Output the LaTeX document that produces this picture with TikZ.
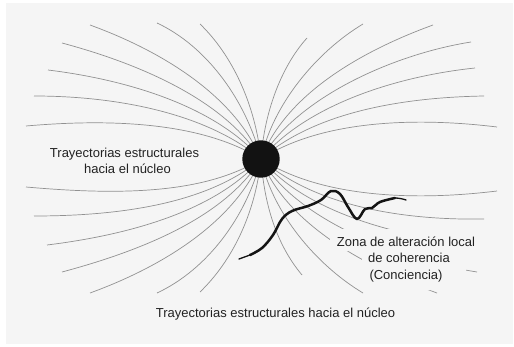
\documentclass[tikz,border=0pt]{standalone}
\usepackage{fontspec}
\setmainfont{Liberation Sans}
\definecolor{bg}{HTML}{F5F5F5}
\definecolor{fanc}{HTML}{919191}
\definecolor{ink}{HTML}{222222}
\begin{document}
\begin{tikzpicture}[x=1pt,y=1pt,
  fan/.style={draw=fanc, line width=0.7pt},
  lbl/.style={font=\fontsize{13}{16}\selectfont, text=ink, anchor=base, inner sep=0pt},
  wave/.style={draw=black!92, line width=2.5pt, line cap=round, line join=round},
  wavetip/.style={draw=black!92, line width=1.3pt, line cap=round, line join=round},
  corestyle/.style={circle, fill=black!93, minimum size=37.4pt, inner sep=0pt}]
\useasboundingbox (0,0) rectangle (514,346);
\fill[white] (0,0) rectangle (514,346);
\fill[bg] (6,2) rectangle (513,343);
\coordinate (c) at (261,187);
% upper left
\draw[fan] (c) .. controls +(148:70) and +(5:85) .. (26,220);
\draw[fan] (c) .. controls +(140:70) and +(0:85) .. (34,250);
\draw[fan] (c) .. controls +(131:70) and +(-7:80) .. (48,276);
\draw[fan] (c) .. controls +(122:70) and +(-15:80) .. (62,303);
\draw[fan] (c) .. controls +(113:70) and +(-20:75) .. (90,321);
\draw[fan] (c) .. controls +(104:60) and +(-25:55) .. (157,323);
\draw[fan] (c) .. controls +(96:55) and +(-44:45) .. (200,322);
% upper right
\draw[fan] (c) .. controls +(86:45) and +(228:40) .. (307,308);
\draw[fan] (c) .. controls +(78:55) and +(211:55) .. (363,322);
\draw[fan] (c) .. controls +(69:70) and +(200:75) .. (433,321);
\draw[fan] (c) .. controls +(60:70) and +(189:80) .. (471,304);
\draw[fan] (c) .. controls +(50:70) and +(186:80) .. (475,278);
\draw[fan] (c) .. controls +(41:70) and +(181:85) .. (484,250);
\draw[fan] (c) .. controls +(33:70) and +(173:85) .. (497,219);
% lower left
\draw[fan] (c) .. controls +(212:70) and +(-5:85) .. (26,159);
\draw[fan] (c) .. controls +(220:70) and +(0:85) .. (34,130);
\draw[fan] (c) .. controls +(229:70) and +(7:80) .. (47,101);
\draw[fan] (c) .. controls +(238:70) and +(15:80) .. (62,74);
\draw[fan] (c) .. controls +(247:70) and +(20:75) .. (90,53);
\draw[fan] (c) .. controls +(256:60) and +(25:55) .. (157,53);
\draw[fan] (c) .. controls +(264:55) and +(44:45) .. (200,54);
% lower right
\draw[fan] (c) .. controls +(274:45) and +(130:40) .. (302,71);
\draw[fan] (c) .. controls +(282:55) and +(149:55) .. (363,53);
\draw[fan] (c) .. controls +(291:70) and +(160:75) .. (437,53);
\draw[fan] (c) .. controls +(300:70) and +(171:80) .. (477,74);
\draw[fan] (c) .. controls +(310:70) and +(174:80) .. (477,101);
\draw[fan] (c) .. controls +(319:70) and +(181:85) .. (484,127);
\draw[fan] (c) .. controls +(327:70) and +(187:85) .. (497,155);
% label halo
\fill[bg] (330,117) -- (480,117) -- (480,96) -- (466,96) -- (466,56) -- (362,56) -- (362,95) -- (330,95) -- cycle;
% core
\node[corestyle] (core) at (c) {};
% wave
\coordinate (w0) at (239,87);
\coordinate (w1) at (250,91);
\coordinate (w2) at (395,148);
\coordinate (w3) at (406,146);
\draw[wavetip] (w0) .. controls (243,88.5) and (246,89.5) .. (w1);
\draw[wavetip] (w2) .. controls (399,148) and (403,147) .. (w3);
\draw[wave] plot[smooth, tension=0.6] coordinates {(w1) (262,98) (273,111) (282,127) (292,135) (308,140) (321,146) (331,155) (340,152) (348,139) (357,127) (365,137) (372,138) (380,144) (w2)};
% labels
\node[lbl] (l1) at (124.5,188.3) {Trayectorias estructurales};
\node[lbl] (l2) at (127.5,172.7) {hacia el núcleo};
\node[lbl] (b1) at (275.5,28.3) {Trayectorias estructurales hacia el núcleo};
\node[lbl] (r1) at (406,100) {Zona de alteración local};
\node[lbl] (r2) at (409,83.3) {de coherencia};
\node[lbl] (r3) at (406,66.7) {(Conciencia)};
\end{tikzpicture}
\end{document}
